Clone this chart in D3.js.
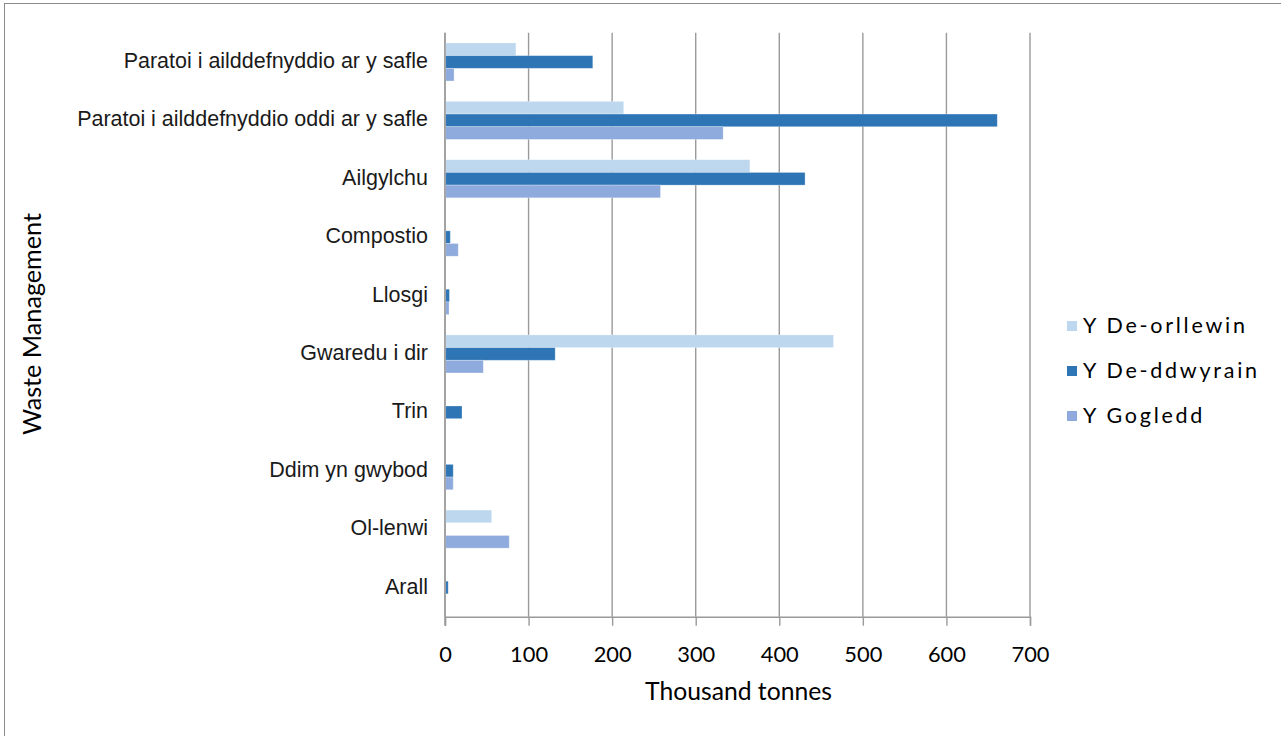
<!DOCTYPE html>
<html>
<head>
<meta charset="utf-8">
<script src="https://cdn.jsdelivr.net/npm/d3@7"></script>
<style>
  html, body { margin: 0; padding: 0; background: #fff; }
  svg { display: block; }
</style>
</head>
<body>
<svg id="chart" width="1281" height="736"></svg>
<script>
// ---- data ----
const categories = [
  "Paratoi i ailddefnyddio ar y safle",
  "Paratoi i ailddefnyddio oddi ar y safle",
  "Ailgylchu",
  "Compostio",
  "Llosgi",
  "Gwaredu i dir",
  "Trin",
  "Ddim yn gwybod",
  "Ol-lenwi",
  "Arall"
];
const seriesNames = ["Y De-orllewin", "Y De-ddwyrain", "Y Gogledd"];
const deOrllewin = [84, 213, 364, 0, 0, 464, 0, 0, 55, 0];
const deDdwyrain = [176, 660, 430, 5.5, 4.5, 131, 19.5, 9, 0, 3];
const gogledd    = [10, 332, 257, 15, 4, 45, 0, 9, 76, 0];
const seriesValues = [deOrllewin, deDdwyrain, gogledd];
const xTicks = [0, 100, 200, 300, 400, 500, 600, 700];
const xTitle = "Thousand tonnes";
const yTitle = "Waste Management";

(function draw() {
// ---- styles ----
const colors = ["#BDD7EE", "#2E75B6", "#8FAADC"];
const svg = d3.select("#chart");

function fitFont(sel, target) {
  const node = sel.node();
  const fs = parseFloat(sel.attr("font-size"));
  const w = node.getComputedTextLength();
  if (w > 0) sel.attr("font-size", (fs * target / w).toFixed(2));
  return parseFloat(sel.attr("font-size"));
}
function fitSpacing(sel, target) {
  const node = sel.node();
  const w = node.getComputedTextLength();
  const n = node.textContent.length;
  return Math.max(0, (target - w) / Math.max(1, n - 1));
}

// outer border
svg.append("rect").attr("x", 4.5).attr("y", 3.5).attr("width", 1290).attr("height", 750)
  .attr("fill", "none").attr("stroke", "#8a8a8a").attr("stroke-width", 1);

const pLeft = 445, pRight = 1030, pTop = 32.8, pBottom = 616.7;
const x = d3.scaleLinear().domain([0, 700]).range([pLeft, pRight]);
const y = d3.scaleBand().domain(categories).range([pTop, pBottom]).paddingInner(0).paddingOuter(0);
const groupH = y.bandwidth() * 0.652;
const ySub = d3.scaleBand().domain(seriesNames)
  .range([(y.bandwidth() - groupH) / 2, (y.bandwidth() + groupH) / 2]);

// gridlines
svg.append("g").selectAll("line").data(xTicks).join("line")
  .attr("x1", d => x(d)).attr("x2", d => x(d))
  .attr("y1", pTop).attr("y2", pBottom)
  .attr("stroke", "#9a9a9a").attr("stroke-width", 1.4);

// bars
const rows = categories.map((c, i) => ({ c, vals: seriesNames.map((s, j) => ({ s, j, v: seriesValues[j][i] })) }));
const g = svg.append("g").selectAll("g").data(rows).join("g")
  .attr("transform", d => `translate(0,${y(d.c)})`);
g.selectAll("rect").data(d => d.vals.filter(e => e.v > 0)).join("rect")
  .attr("x", x(0) + 0.7)
  .attr("y", d => ySub(d.s))
  .attr("width", d => x(d.v) - x(0))
  .attr("height", ySub.bandwidth())
  .attr("fill", d => colors[d.j])
  .attr("stroke", "rgba(255,255,255,0.35)").attr("stroke-width", 0.8);

// x axis
const xAxis = svg.append("g").attr("transform", `translate(0,${pBottom})`)
  .call(d3.axisBottom(x).tickValues(xTicks).tickSize(9).tickFormat(d3.format("d")));
xAxis.select(".domain").attr("stroke", "#9a9a9a").attr("stroke-width", 1.4);
xAxis.selectAll(".tick line").attr("stroke", "#9a9a9a").attr("stroke-width", 1.4);
xAxis.selectAll(".tick text").attr("font-family", "Lato, 'Open Sans', sans-serif")
  .attr("font-size", 21.5).attr("fill", "#000").attr("dy", null).attr("y", 45);
// y axis line extension
svg.append("line").attr("x1", x(0)).attr("x2", x(0)).attr("y1", pTop).attr("y2", pBottom + 9)
  .attr("stroke", "#9a9a9a").attr("stroke-width", 1.4);

// category labels
const catLabels = svg.append("g").selectAll("text").data(categories).join("text")
  .attr("x", 428).attr("y", d => y(d) + y.bandwidth() / 2 + 6)
  .attr("text-anchor", "end")
  .attr("font-family", "'Liberation Sans', Arial, sans-serif")
  .attr("font-size", 17).attr("fill", "#1a1a1a")
  .text(d => d);
const longest = catLabels.filter((d, i) => i === 1);
const catFs = fitFont(longest, 351);
catLabels.attr("font-size", catFs);

// tick label fit
const t700 = xAxis.selectAll(".tick text").filter(d => d === 700);
const tickFs = fitFont(t700, 38);
xAxis.selectAll(".tick text").attr("font-size", tickFs);

// titles
const xt = svg.append("text").attr("x", (645 + 832) / 2).attr("y", 700)
  .attr("text-anchor", "middle").attr("font-family", "Lato, 'Open Sans', sans-serif")
  .attr("font-size", 22).attr("fill", "#000").text(xTitle);
fitFont(xt, 187);

const yt = svg.append("text").attr("transform", "translate(41,324) rotate(-90)")
  .attr("text-anchor", "middle").attr("font-family", "Lato, 'Open Sans', sans-serif")
  .attr("font-size", 22).attr("fill", "#000").text(yTitle);
fitFont(yt, 222);

// legend
const lg = svg.append("g").selectAll("g").data(seriesNames).join("g")
  .attr("transform", (d, i) => `translate(1067,${326 + i * 45})`);
lg.append("rect").attr("x", 0).attr("y", -5).attr("width", 10).attr("height", 10)
  .attr("fill", (d, i) => colors[i]);
const lt = lg.append("text").attr("x", 16).attr("y", 7)
  .attr("font-family", "Lato, 'Open Sans', sans-serif").attr("font-size", 21.5)
  .attr("fill", "#000").text(d => d);
const ls = fitSpacing(lt.filter((d, i) => i === 0), 162);
lt.attr("letter-spacing", ls.toFixed(2));
})();
</script>
</body>
</html>
